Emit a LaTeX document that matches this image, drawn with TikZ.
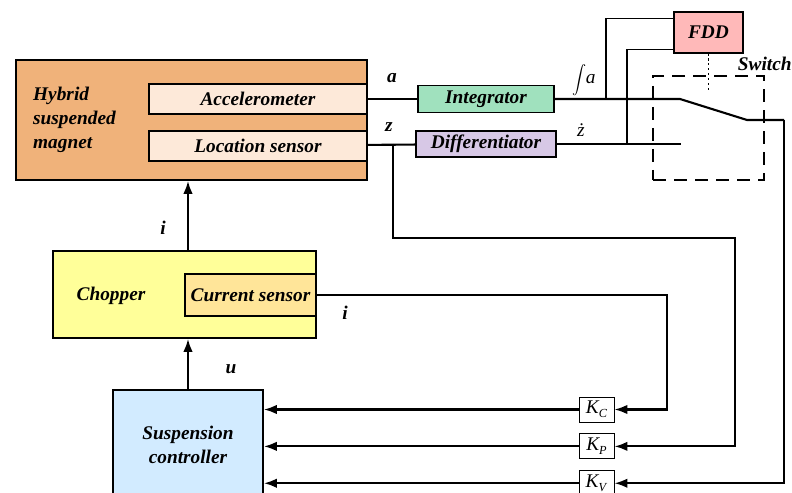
\documentclass[tikz,border=0pt]{standalone}
\usepackage{fontspec}
\setmainfont{Liberation Serif}
\usetikzlibrary{arrows.meta,calc,positioning}
\definecolor{MagOrange}{HTML}{F0B27A}
\definecolor{SensCream}{HTML}{FDE9D9}
\definecolor{IntGreen}{HTML}{A0E1BE}
\definecolor{DiffLilac}{HTML}{D7C8E6}
\definecolor{FddPink}{HTML}{FFB9B9}
\definecolor{ChopYellow}{HTML}{FFFF99}
\definecolor{CurOrange}{HTML}{FFE599}
\definecolor{CtrlBlue}{HTML}{D2EBFF}
\newcommand{\diagfont}{\fontsize{11}{13.5}\selectfont}
\tikzset{
    block/.style = {draw, rectangle, line width=1pt, inner sep=0pt,
        align=center, font=\diagfont\bfseries\itshape},
    gain/.style = {draw, rectangle, line width=0.5pt, fill=white,
        minimum width=7mm, minimum height=5mm, inner sep=0pt},
    sig/.style = {font=\diagfont\bfseries\itshape},
    wire/.style = {draw, line width=1.2pt}
}
\newcommand{\gainlbl}[1]{\textit{K}\kern-0.5pt\raisebox{-0.45ex}{\scriptsize\textit{#1}}}

\begin{document}
\begin{tikzpicture}[x=0.2mm, y=-0.2mm, >={Latex[length=2.6mm,width=1.9mm]},
    every node/.style={font=\diagfont}]
        \useasboundingbox (0,0) rectangle (792,493);
        \clip (0,0) rectangle (792,493);
        % magnet with its two sensors
        \node [block, fill=MagOrange, minimum width=70.2mm, minimum height=24mm] (mag) at (191.5,120) {};
        \node [sig, anchor=west, align=left] (magtxt) at (27,120) {Hybrid\\suspended\\magnet};
        \node [block, fill=SensCream, minimum width=43.6mm, minimum height=6mm] (acc) at (258,99) {Accelerometer};
        \node [block, fill=SensCream, minimum width=43.6mm, minimum height=6mm, below=3mm of acc] (loc) {Location sensor};
        % signal processing
        \node [block, fill=IntGreen, minimum width=27.2mm, minimum height=5.4mm] (integ) at (486,99) {Integrator};
        \node [block, fill=DiffLilac, minimum width=28mm, minimum height=5.2mm] (diff) at (486,144) {Differentiator};
        \node [block, fill=FddPink, line width=0.6pt, minimum width=13.8mm, minimum height=8.2mm] (fdd) at (708.5,32.5) {FDD};
        \node [draw, line width=1pt, dash pattern=on 2.6mm off 1.6mm, minimum width=22.2mm, minimum height=20.8mm] (swbox) at (708.5,128) {};
        \node [sig, anchor=east, inner sep=0pt] (swlbl) at (792,64) {Switch};
        % chopper and controller
        \node [block, fill=ChopYellow, minimum width=52.6mm, minimum height=17.4mm] (chop) at (184.5,294.5) {};
        \node [sig] (choptxt) at (111,296) {Chopper};
        \node [block, fill=CurOrange, minimum width=26.2mm, minimum height=8.4mm] (cur) at (250.5,295) {Current sensor};
        \node [block, fill=CtrlBlue, minimum width=30mm, minimum height=22mm] (ctrl) at (188,445) {Suspension\\controller};
        % feedback gains
        \node [gain] (kc) at (596.5,409.5) {\gainlbl{C}};
        \node [gain, below=2.2mm of kc] (kp) {\gainlbl{P}};
        \node [gain, below=2.2mm of kp] (kv) {\gainlbl{V}};

        \coordinate (swin) at (680,99);
        \coordinate (swlever) at (747,120);
        \coordinate (swout) at (784,120);
        \coordinate (swlow) at (681,144);
        \coordinate (ztap) at (393,144);
        \coordinate (atap) at (606,99);
        \coordinate (dtap) at (627,144);
        \coordinate (fddend) at (708.5,91);

        \draw [wire] (acc) -- (integ);
        \node [sig] (alab) at (392,78) {a};
        \draw [wire] (loc) -- (diff);
        \node [sig] (zlab) at (389,127) {z};
        \draw [wire] (integ) -- (swin) -- (swlever) -- (swout);
        \draw [wire] (diff) -- (swlow);
        \node [inner sep=0pt] (intlab) at (584,80) {\scalebox{0.8}{$\displaystyle\int$}\kern-0.5pt\textit{a}};
        \node [inner sep=1pt] (dotlab) at (581,130) {\textit{ż}};
        \draw [wire, line width=0.7pt] ($(fdd.north west)!0.17!(fdd.south west)$) -| (atap);
        \draw [wire, line width=0.7pt] ($(fdd.north west)!0.9!(fdd.south west)$) -| (dtap);
        \draw [line width=1.1pt, dash pattern=on 1.2pt off 1.6pt] (fdd.south) -- (fddend);

        \draw [wire, ->] (swout) |- (kv.east);
        \draw [wire, ->] (ztap) |- (735,238) |- (kp.east);
        \draw [wire, ->] (cur.east) -- (667,295) |- (kc.east);
        \node [sig] (ilab2) at (345,313) {i};

        \foreach \k in {kc,kp,kv}{
            \draw [wire, ->] (\k.west) -- (\k.west -| ctrl.east);
        }
        \draw [wire, ->] (ctrl.north) -- (ctrl.north |- chop.south);
        \node [sig] (ulab) at (231,369) {u};
        \draw [wire, ->] (ctrl.north |- chop.north) -- (ctrl.north |- mag.south);
        \node [sig] (ilab1) at (163,228) {i};
\end{tikzpicture}
\end{document}
